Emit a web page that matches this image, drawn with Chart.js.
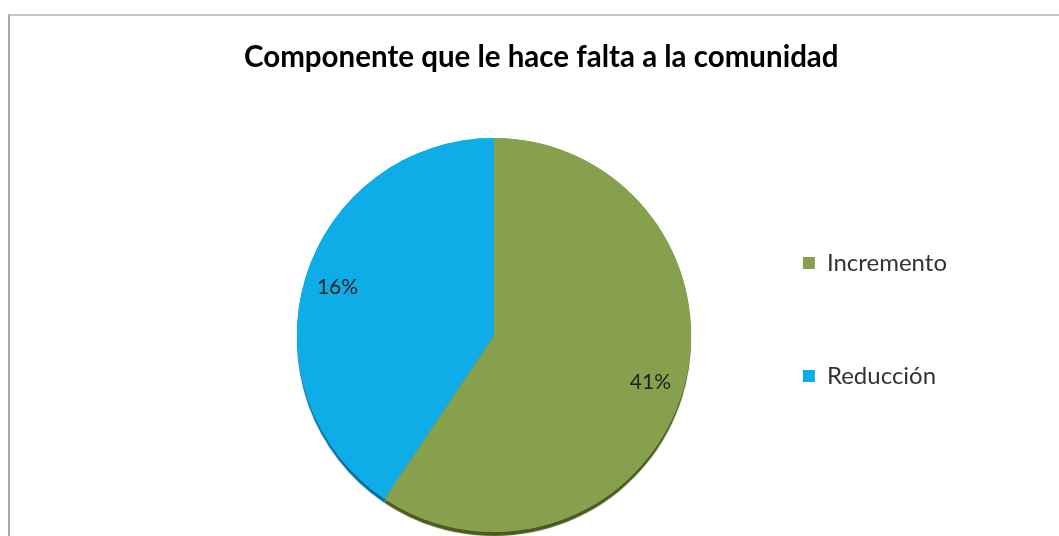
<!DOCTYPE html>
<html>
<head>
<meta charset="utf-8">
<script src="https://cdn.jsdelivr.net/npm/chart.js@4"></script>
<style>
  html, body { margin: 0; padding: 0; background: #fff; overflow: hidden; }
  #marco {
    position: absolute; left: 8px; top: 14px; width: 1100px; height: 600px;
    border-left: 2px solid #a9a9a9; border-top: 2px solid #c4c4c4;
  }
  #zona { position: absolute; left: 0; top: 0; width: 1059px; height: 536px; }
</style>
</head>
<body>
<div id="marco"></div>
<div id="zona"><canvas id="grafico-comunidad"></canvas></div>
<script>
const categorias = ['Incremento', 'Reducción']
// tamaño de cada porción (ángulos)
const valores = [59.4, 40.6]
// textos de porcentaje que aparecen sobre las porciones
const etiquetas = ['41%', '16%']
const colores = ['#87a04d', '#0fade8']
const cantos = ['#4b5a20', '#0a6d99']

// escribe los porcentajes dentro de cada porción
const textoPorciones = {
  id: 'textoPorciones',
  afterDatasetsDraw(chart) {
    const ctx = chart.ctx
    const arcos = chart.getDatasetMeta(0).data
    ctx.save()
    ctx.font = '21px Lato'
    ctx.fillStyle = '#222'
    ctx.textAlign = 'center'
    ctx.textBaseline = 'middle'
    arcos.forEach((arco, i) => {
      const p = arco.getProps(['x', 'y', 'startAngle', 'endAngle', 'outerRadius'], true)
      const medio = (p.startAngle + p.endAngle) / 2
      const r = p.outerRadius * 0.83
      ctx.fillText(etiquetas[i], p.x + Math.cos(medio) * r, p.y + Math.sin(medio) * r)
    })
    ctx.restore()
  }
}

// canto oscuro bajo el pastel (se dibuja antes y queda tapado salvo abajo)
const canto = {
  id: 'canto',
  beforeDatasetsDraw(chart) {
    const ctx = chart.ctx
    chart.getDatasetMeta(0).data.forEach((arco, i) => {
      ctx.save()
      ctx.shadowColor = cantos[i]
      ctx.shadowOffsetY = 4
      ctx.shadowBlur = 1
      arco.draw(ctx)
      ctx.restore()
    })
  }
}

const ctx = document.getElementById('grafico-comunidad')
new Chart(ctx, {
  type: 'pie',
  data: {
    labels: categorias,
    datasets: [{
      data: valores,
      backgroundColor: colores,
      borderWidth: 0,
      radius: 197,
      clip: false
    }]
  },
  options: {
    responsive: true,
    maintainAspectRatio: false,
    animation: false,
    layout: {
      padding: { left: 244, right: 102, top: 0, bottom: 58 }
    },
    plugins: {
      title: {
        display: true,
        align: 'start',
        text: 'Componente que le hace falta a la comunidad',
        color: '#000',
        font: { family: 'Lato', size: 29.5, weight: 'bold', lineHeight: 1.2 },
        padding: { top: 39.3, bottom: 117.3 }
      },
      legend: {
        position: 'right',
        align: 'start',
        fullSize: false,
        labels: {
          boxWidth: 12,
          boxHeight: 12,
          padding: 59,
          color: '#333',
          font: { family: 'Lato', size: 24, lineHeight: 54 / 24 },
          generateLabels(chart) {
            const items = Chart.overrides.pie.plugins.legend.labels.generateLabels(chart)
            // texto en lista para que cada fila ocupe la altura de línea
            items.forEach(it => { it.text = [it.text] })
            return items
          }
        }
      },
      tooltip: { enabled: false }
    }
  },
  plugins: [canto, textoPorciones]
})
</script>
</body>
</html>
